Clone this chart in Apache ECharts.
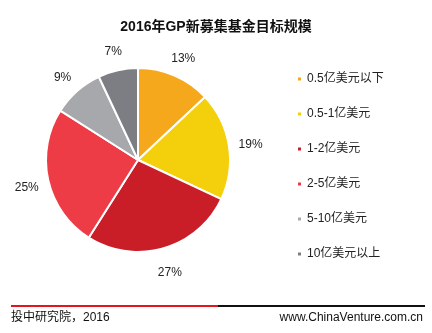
<!DOCTYPE html>
<html>
<head>
<meta charset="utf-8">
<script src="https://cdn.jsdelivr.net/npm/echarts@6/dist/echarts.min.js"></script>
<style>
  html, body { margin: 0; padding: 0; background: #fff; }
  #chart { width: 432px; height: 333px; }
</style>
</head>
<body>
<div id="chart"></div>
<script>
// Fund size brackets and their shares (%)
const categories = ['0.5亿美元以下', '0.5-1亿美元', '1-2亿美元', '2-5亿美元', '5-10亿美元', '10亿美元以上'];
const shares = [13, 19, 27, 25, 9, 7];
const colors = ['#F5A81C', '#F4D00C', '#C91E28', '#EE3C47', '#A7A8AC', '#7D7E84'];

const FONT = '"Liberation Sans", Arial, "Noto Sans CJK SC", sans-serif';
const CENTER = [138, 160];
const pieData = categories.map((name, i) => ({ name: name, value: shares[i] }));

const chart = echarts.init(document.getElementById('chart'), null, { renderer: 'canvas' });

chart.setOption({
  backgroundColor: '#fff',
  animation: false,
  color: colors,
  title: {
    text: '2016年GP新募集基金目标规模',
    left: 'center',
    top: 15,
    textStyle: { fontFamily: FONT, fontSize: 14, fontWeight: 'bold', color: '#111' }
  },
  legend: {
    orient: 'vertical',
    left: 291,
    top: 68,
    icon: 'rect',
    itemWidth: 5,
    itemHeight: 5,
    itemGap: 23,
    textStyle: { fontFamily: FONT, fontSize: 12, lineHeight: 12, color: '#222' },
    data: categories
  },
  series: [
    {
      // the pie itself
      type: 'pie',
      center: CENTER,
      radius: 92,
      startAngle: 90,
      clockwise: true,
      itemStyle: { borderColor: '#fff', borderWidth: 2 },
      label: { show: false },
      labelLine: { show: false },
      data: pieData
    },
    {
      // invisible ring that only carries the percentage labels, centred on each slice's mid-angle
      type: 'pie',
      center: CENTER,
      radius: [0, 222],
      startAngle: 90,
      clockwise: true,
      silent: true,
      z: 1,
      itemStyle: { color: 'rgba(0,0,0,0)', borderWidth: 0 },
      label: {
        show: true,
        position: 'inside',
        formatter: '{c}%',
        offset: [0, 3],
        fontFamily: FONT,
        fontSize: 12,
        color: '#222'
      },
      labelLine: { show: false },
      data: pieData
    }
  ],
  graphic: [
    { type: 'rect', shape: { x: 11, y: 305, width: 207, height: 2 }, style: { fill: '#E8141B' } },
    { type: 'rect', shape: { x: 218, y: 305, width: 207, height: 2 }, style: { fill: '#111' } },
    { type: 'text', left: 11, top: 312,
      style: { text: '投中研究院，2016', font: '12px ' + FONT, fill: '#111' } },
    { type: 'text', right: 9, top: 312,
      style: { text: 'www.ChinaVenture.com.cn', font: '12px ' + FONT, fill: '#111' } }
  ]
});
</script>
</body>
</html>
